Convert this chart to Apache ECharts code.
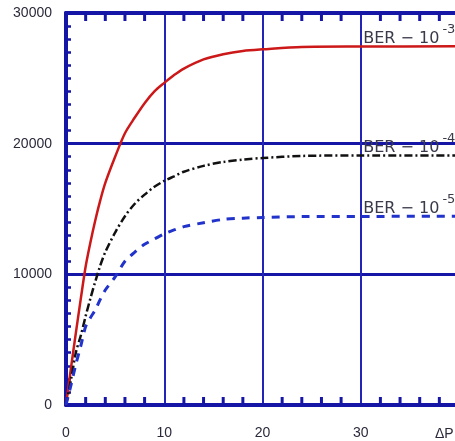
<!DOCTYPE html>
<html><head><meta charset="utf-8">
<script src="https://cdn.jsdelivr.net/npm/echarts@6/dist/echarts.min.js"></script>
<style>html,body{margin:0;padding:0;background:#fff;overflow:hidden}#c{width:455px;height:441px}</style>
</head><body><div id="c"></div>
<script>
const xValues = [0, 0.5, 1, 1.5, 2, 2.5, 3, 3.5, 4, 5, 6, 7, 8, 9, 10, 11, 12, 14, 16, 18, 20, 24, 30, 40];
const ber3 = [0, 2800, 5500, 8100, 10600, 12500, 14200, 15700, 17000, 19000, 20800, 22000, 23100, 24000, 24650, 25250, 25750, 26450, 26850, 27100, 27220, 27400, 27430, 27450];
const ber4 = [0, 1900, 4000, 5300, 6800, 8200, 9500, 10700, 11700, 13200, 14450, 15400, 16100, 16700, 17150, 17500, 17850, 18300, 18600, 18780, 18900, 19060, 19100, 19100];
const ber5 = [0, 1500, 3100, 4500, 6000, 6700, 7300, 8100, 8800, 9800, 11000, 11700, 12300, 12700, 13100, 13400, 13650, 13950, 14200, 14300, 14350, 14420, 14430, 14450];
const xMinorTicks = [2, 4, 6, 8, 12, 14, 16, 18, 22, 24, 26, 28, 32, 34, 36, 38];
const berExponents = ['-3', '-4', '-5'];
const berPrefix = 'BER − 10';
const xAxisName = 'ΔP';
const labelX = 30;
const yMin = 0, yMax = 30000;

const axisBlue = '#1616a6';
const gridBlue = '#2424b8';
const textCol = '#2a2a3a';

function pairs(ys) { return xValues.map((x, i) => [x, ys[i]]); }
function berMark(ys, exp) {
  return {
    symbol: 'circle', symbolSize: 1, silent: true,
    itemStyle: { color: 'rgba(0,0,0,0)' },
    data: [{ coord: [labelX, ys[ys.length - 2]] }],
    label: {
      show: true, position: 'right', distance: 2, offset: [0, -8],
      formatter: '{b|' + berPrefix + '}{s|' + exp + '}',
      rich: {
        b: { fontSize: 16, fontFamily: 'DejaVu Sans', color: '#3a3a4a', lineHeight: 31 },
        s: { fontSize: 13, fontFamily: 'DejaVu Sans', color: '#3a3a4a', lineHeight: 10, verticalAlign: 'top', padding: [0, 0, 0, 3] }
      }
    }
  };
}

const chart = echarts.init(document.getElementById('c'), null, { renderer: 'canvas' });
chart.setOption({
  animation: false,
  backgroundColor: '#fff',
  grid: { left: 66, width: 393, top: 13, bottom: 36, outerBoundsMode: 'none', containLabel: false },
  xAxis: [
    {
      type: 'value', min: 0, max: 40, interval: 10, position: 'bottom',
      axisLine: { show: true, onZero: false, lineStyle: { color: axisBlue, width: 4 } },
      axisTick: { show: false },
      name: xAxisName, nameLocation: 'end', nameGap: -24,
      nameTextStyle: { fontSize: 14, fontFamily: 'Liberation Sans', color: textCol, verticalAlign: 'top', align: 'left', padding: [22, 0, 0, 0] },
      splitLine: { show: true, lineStyle: { color: gridBlue, width: 2 } },
      axisLabel: { show: true, margin: 21, fontSize: 14, fontFamily: 'Liberation Sans', color: textCol,
        formatter: v => (v >= 40 ? '' : String(v)) }
    },
    {
      type: 'value', min: 0, max: 40, interval: 10, position: 'top',
      axisLine: { show: true, onZero: false, lineStyle: { color: axisBlue, width: 4 } },
      axisTick: { show: false },
      splitLine: { show: false }, axisLabel: { show: false }
    }
  ],
  yAxis: {
    type: 'value', min: yMin, max: yMax, interval: 10000,
    axisLine: { show: true, onZero: false, lineStyle: { color: axisBlue, width: 4 } },
    axisTick: { show: true, inside: true, length: 5, lineStyle: { color: axisBlue, width: 2.5 } },
    minorTick: { show: true, splitNumber: 10, length: 5, lineStyle: { color: axisBlue, width: 2.5 } },
    splitLine: { show: true, lineStyle: { color: axisBlue, width: 3 } },
    axisLabel: { margin: 14, fontSize: 14, fontFamily: 'Liberation Sans', color: textCol,
      padding: [6, 0, 0, 0], formatter: v => String(v) }
  },
  series: [
    { type: 'line', name: 'BER 1e-3', data: pairs(ber3), showSymbol: false, smooth: 0.3,
      lineStyle: { color: '#cc1818', width: 2.5 }, markPoint: berMark(ber3, berExponents[0]) },
    { type: 'line', name: 'BER 1e-4', data: pairs(ber4), showSymbol: false, smooth: 0.3,
      lineStyle: { color: '#111111', width: 2.5, type: [8, 3, 2, 3] }, markPoint: berMark(ber4, berExponents[1]) },
    { type: 'line', name: 'BER 1e-5', data: pairs(ber5), showSymbol: false, smooth: 0.3,
      lineStyle: { color: '#2233cc', width: 3, type: [8, 7] }, markPoint: berMark(ber5, berExponents[2]) }
  ]
});

// Minor x ticks pointing into the plot, positioned through the chart's own x/y scales.
const tickGraphics = [];
xMinorTicks.forEach(function (v) {
  const pb = chart.convertToPixel({ xAxisIndex: 0, yAxisIndex: 0 }, [v, yMin]);
  const pt = chart.convertToPixel({ xAxisIndex: 0, yAxisIndex: 0 }, [v, yMax]);
  if (!pb || !pt) return;
  tickGraphics.push({ type: 'rect', silent: true, z: 100,
    shape: { x: pb[0] - 1.5, y: pb[1] - 8, width: 3, height: 8 }, style: { fill: axisBlue } });
  tickGraphics.push({ type: 'rect', silent: true, z: 100,
    shape: { x: pt[0] - 1.5, y: pt[1], width: 3, height: 8 }, style: { fill: axisBlue } });
});
chart.setOption({ graphic: { elements: tickGraphics } });
</script></body></html>
